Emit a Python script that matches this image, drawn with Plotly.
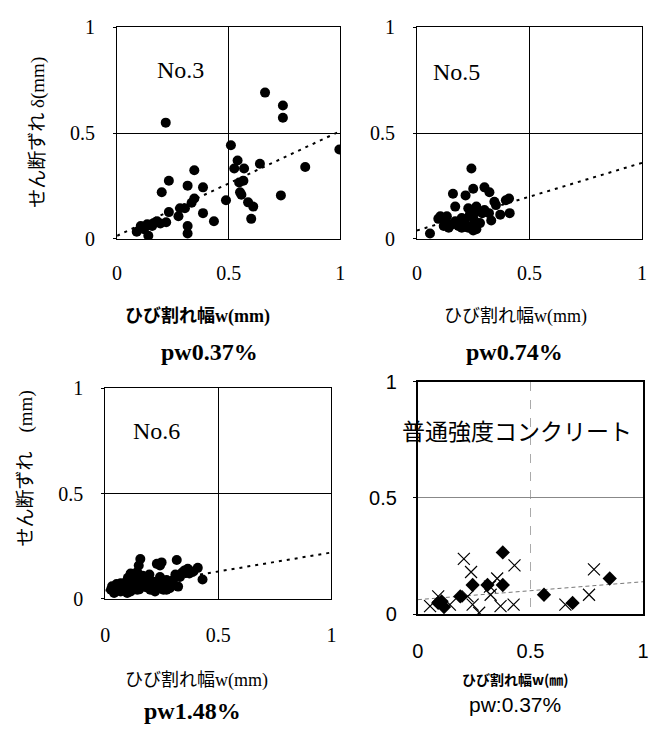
import plotly.graph_objects as go

W, H = 651, 733

# ---------------- data ----------------
tick_vals = [0, 0.5, 1]
tick_text = ["0", "0.5", "1"]

# No.3  (pw0.37%)
no3_w = [0.218, 0.663, 0.743, 0.743, 0.510, 0.996, 0.540, 0.640, 0.525, 0.569,
         0.843, 0.346, 0.232, 0.566, 0.547, 0.316, 0.385, 0.200, 0.551, 0.557,
         0.734, 0.488, 0.346, 0.334, 0.587, 0.610, 0.282, 0.304, 0.232, 0.385,
         0.275, 0.434, 0.601, 0.220, 0.316, 0.316, 0.140, 0.088, 0.106, 0.135,
         0.165, 0.194, 0.121, 0.157, 0.179]
no3_d = [0.550, 0.692, 0.631, 0.573, 0.443, 0.423, 0.371, 0.356, 0.333, 0.333,
         0.340, 0.325, 0.275, 0.275, 0.267, 0.252, 0.244, 0.221, 0.221, 0.209,
         0.206, 0.183, 0.191, 0.171, 0.173, 0.153, 0.145, 0.145, 0.127, 0.122,
         0.107, 0.084, 0.095, 0.079, 0.061, 0.026, 0.015, 0.034, 0.061, 0.069,
         0.076, 0.073, 0.046, 0.061, 0.084]
no3_trend = [0.015, 0.51]

# No.5  (pw0.74%)
no5_w = [0.242, 0.058, 0.160, 0.216, 0.250, 0.300, 0.322, 0.170, 0.344, 0.351,
         0.409, 0.395, 0.228, 0.264, 0.290, 0.320, 0.370, 0.412, 0.330, 0.104,
         0.133, 0.119, 0.155, 0.184, 0.213, 0.242, 0.264, 0.257, 0.199, 0.235,
         0.250, 0.126, 0.170, 0.213, 0.264, 0.300, 0.141, 0.228, 0.199, 0.250,
         0.280, 0.095]
no5_d = [0.333, 0.026, 0.214, 0.206, 0.237, 0.244, 0.221, 0.153, 0.176, 0.160,
         0.191, 0.183, 0.145, 0.153, 0.122, 0.122, 0.115, 0.122, 0.087, 0.107,
         0.107, 0.061, 0.069, 0.061, 0.069, 0.061, 0.046, 0.084, 0.099, 0.115,
         0.099, 0.084, 0.084, 0.092, 0.130, 0.137, 0.053, 0.053, 0.053, 0.040,
         0.075, 0.095]
no5_trend = [0.04, 0.36]

# No.6  (pw1.48%)
no6_w = [0.155, 0.316, 0.228, 0.242, 0.148, 0.351, 0.409, 0.430, 0.372, 0.112,
         0.141, 0.184, 0.242, 0.271, 0.322, 0.330, 0.054, 0.083, 0.068, 0.112,
         0.141, 0.170, 0.199, 0.228, 0.257, 0.286, 0.104, 0.133, 0.213, 0.170,
         0.097, 0.068, 0.220, 0.271, 0.300, 0.365, 0.249, 0.025, 0.039, 0.030,
         0.045, 0.060, 0.075, 0.090, 0.120, 0.150, 0.180, 0.200, 0.235, 0.260,
         0.285, 0.050, 0.085, 0.125, 0.160, 0.190, 0.210, 0.250, 0.275, 0.300,
         0.130, 0.165, 0.195, 0.100, 0.310, 0.340, 0.390]
no6_d = [0.189, 0.184, 0.166, 0.158, 0.158, 0.135, 0.147, 0.092, 0.120, 0.120,
         0.127, 0.104, 0.104, 0.089, 0.058, 0.104, 0.058, 0.074, 0.035, 0.035,
         0.043, 0.066, 0.043, 0.058, 0.043, 0.066, 0.089, 0.081, 0.081, 0.097,
         0.028, 0.074, 0.035, 0.043, 0.089, 0.143, 0.173, 0.043, 0.028, 0.060,
         0.045, 0.040, 0.055, 0.050, 0.050, 0.045, 0.055, 0.060, 0.050, 0.060,
         0.050, 0.070, 0.065, 0.075, 0.080, 0.085, 0.070, 0.075, 0.070, 0.065,
         0.095, 0.110, 0.115, 0.100, 0.115, 0.125, 0.130]
no6_trend = [0.04, 0.22]

# 普通強度コンクリート (pw:0.37%)
nc_diamond_w = [0.377, 0.243, 0.309, 0.377, 0.188, 0.105, 0.116, 0.560, 0.687, 0.852, 0.090]
nc_diamond_d = [0.266, 0.126, 0.126, 0.126, 0.077, 0.056, 0.031, 0.084, 0.049, 0.154, 0.049]
nc_cross_w = [0.204, 0.236, 0.429, 0.352, 0.090, 0.054, 0.142, 0.221, 0.243, 0.272,
              0.323, 0.367, 0.425, 0.320, 0.782, 0.760, 0.655]
nc_cross_d = [0.238, 0.182, 0.210, 0.154, 0.077, 0.035, 0.042, 0.077, 0.042, 0.007,
              0.084, 0.035, 0.042, 0.119, 0.193, 0.084, 0.042]
nc_trend = [0.063, 0.14]

trend_x = [0, 1]

# ---------------- layout helpers ----------------
SERIF = "Liberation Serif, Noto Sans CJK JP"
SANS = "Liberation Sans, Noto Sans CJK JP"


def dom_x(a, b):
    return [a / W, b / W]


def dom_y(top, bottom):
    return [1 - bottom / H, 1 - top / H]


fig = go.Figure()

panels = [
    (no3_w, no3_d, no3_trend, "x", "y"),
    (no5_w, no5_d, no5_trend, "x2", "y2"),
    (no6_w, no6_d, no6_trend, "x3", "y3"),
]
for w, d, tr, xa, ya in panels:
    fig.add_trace(go.Scatter(x=trend_x, y=tr, mode="lines", xaxis=xa, yaxis=ya,
                             line=dict(color="black", width=2, dash="3px,5px"),
                             showlegend=False, hoverinfo="skip"))
    fig.add_trace(go.Scatter(x=w, y=d, mode="markers", xaxis=xa, yaxis=ya,
                             marker=dict(symbol="circle", size=10, color="black"),
                             showlegend=False))

fig.add_trace(go.Scatter(x=trend_x, y=nc_trend, mode="lines", xaxis="x4", yaxis="y4",
                         line=dict(color="#777777", width=1, dash="4px,3px"),
                         showlegend=False, hoverinfo="skip"))
fig.add_trace(go.Scatter(x=nc_cross_w, y=nc_cross_d, mode="markers", xaxis="x4", yaxis="y4",
                         marker=dict(symbol="x-thin-open", size=12, color="black",
                                     line=dict(color="black", width=1.2)),
                         showlegend=False))
fig.add_trace(go.Scatter(x=nc_diamond_w, y=nc_diamond_d, mode="markers", xaxis="x4", yaxis="y4",
                         marker=dict(symbol="diamond", size=11, color="black"),
                         showlegend=False))


def xax(domain, anchor, font, standoff, lw=1, grid="black", griddash="solid"):
    return dict(domain=domain, anchor=anchor, range=[0, 1], tickvals=tick_vals,
                ticktext=tick_text, showline=True, mirror=True, linecolor="black",
                linewidth=lw, showgrid=True, gridcolor=grid, gridwidth=1, griddash=griddash,
                zeroline=False, ticks="", tickfont=font, ticklabelstandoff=standoff,
                fixedrange=True)


def yax(domain, anchor, font, standoff, lw=1, grid="black"):
    return dict(domain=domain, anchor=anchor, range=[0, 1], tickvals=tick_vals,
                ticktext=tick_text, showline=True, mirror=True, linecolor="black",
                linewidth=lw, showgrid=True, gridcolor=grid, gridwidth=1,
                zeroline=False, ticks="outside", ticklen=3, tickcolor="black",
                tickfont=font, ticklabelstandoff=standoff, fixedrange=True)


serif_tick = dict(family=SERIF, size=20, color="black")
sans_tick = dict(family=SANS, size=20, color="black")

fig.update_layout(
    width=W, height=H,
    margin=dict(l=0, r=0, t=0, b=0),
    paper_bgcolor="white", plot_bgcolor="white",
    showlegend=False,
    xaxis=xax(dom_x(113, 340), "y", serif_tick, 16),
    yaxis=yax(dom_y(17, 235), "x", serif_tick, 14),
    xaxis2=xax(dom_x(418, 647), "y2", serif_tick, 16),
    yaxis2=yax(dom_y(17, 235), "x2", serif_tick, 14),
    xaxis3=xax(dom_x(101, 331), "y3", serif_tick, 18),
    yaxis3=yax(dom_y(389, 606), "x3", serif_tick, 14),
    xaxis4=xax(dom_x(419, 648), "y4", sans_tick, 18, lw=2, grid="#aaaaaa", griddash="dash"),
    yaxis4=yax(dom_y(382, 622), "x4", sans_tick, 12, lw=2, grid="#888888"),
)


def ann(text, x, y, size, family, bold=False, angle=0):
    if bold:
        text = "<b>" + text + "</b>"
    fig.add_annotation(text=text, x=x / W, y=1 - y / H, xref="paper", yref="paper",
                       showarrow=False, xanchor="center", yanchor="middle",
                       textangle=angle,
                       font=dict(family=family, size=size, color="black"))


# panel labels
ann("No.3", 177, 61, 24, SERIF)
ann("No.5", 458, 63, 24, SERIF)
ann("No.6", 153, 433, 24, SERIF)
ann("普通強度コンクリート", 520, 432, 23, "Noto Sans CJK JP")

# y-axis titles
ann("せん断ずれ δ(mm)", 33, 125, 19, SERIF, angle=-90)
ann("せん断ずれ　(mm)", 20, 472, 19, SERIF, angle=-90)

# x-axis titles
ann("ひび割れ幅w(mm)", 195, 315, 18, SERIF, bold=True)
ann("ひび割れ幅w(mm)", 518, 315, 18, SERIF)
ann("ひび割れ幅w(mm)", 194, 690, 18, SERIF)
ann("ひび割れ幅w(㎜)", 518, 689, 14, "Noto Sans CJK JP", bold=True)

# captions
ann("pw0.37%", 207, 352, 24, "Liberation Serif", bold=True)
ann("pw0.74%", 517, 352, 24, "Liberation Serif", bold=True)
ann("pw1.48%", 190, 722, 24, "Liberation Serif", bold=True)
ann("pw:0.37%", 518, 715, 21, "Liberation Sans")

fig.write_html("out.html")
